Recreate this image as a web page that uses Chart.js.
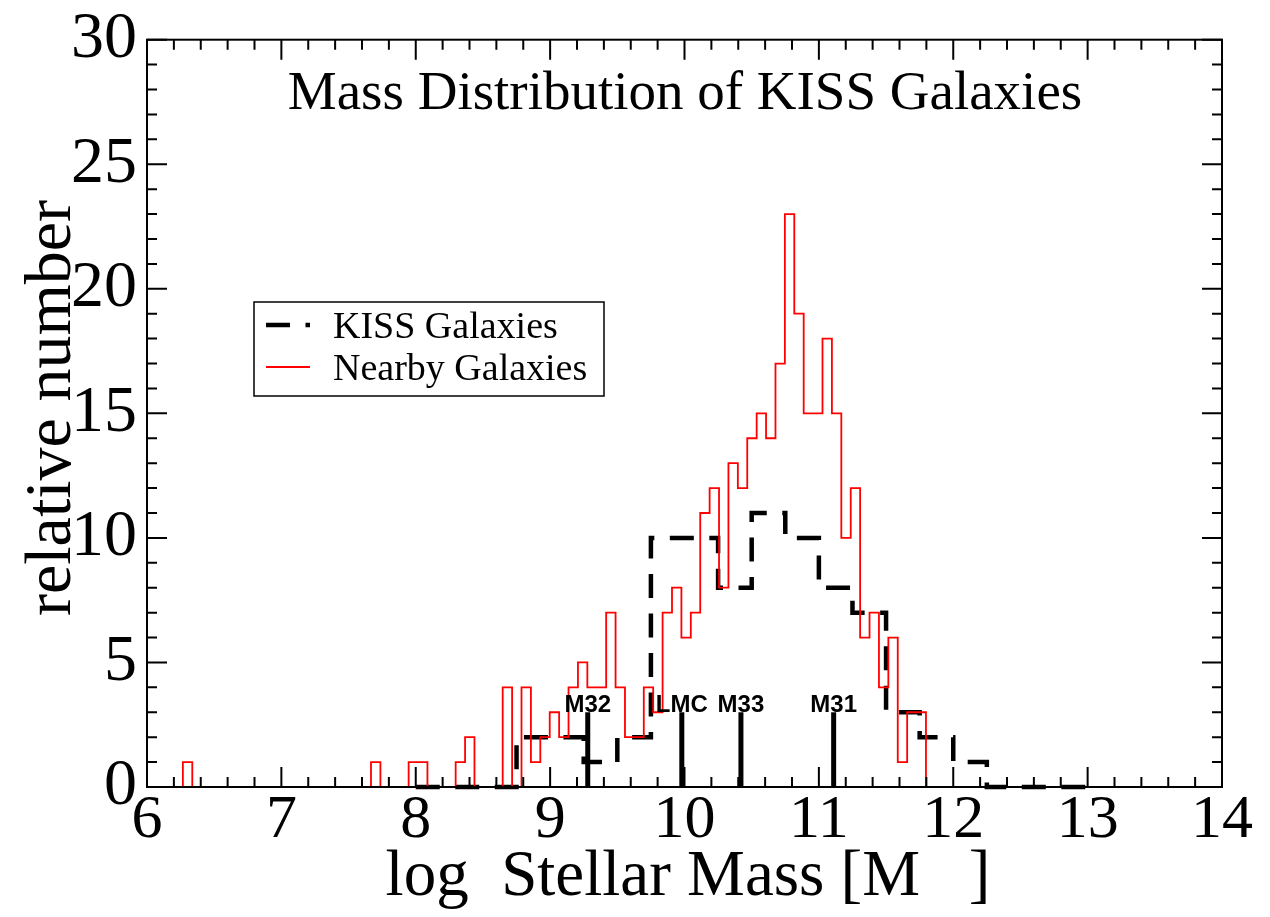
<!DOCTYPE html>
<html>
<head>
<meta charset="utf-8">
<script src="https://cdn.jsdelivr.net/npm/chart.js@4.4.0/dist/chart.umd.min.js"></script>
<style>
  html, body { margin: 0; padding: 0; background: #fff; }
</style>
</head>
<body>
<canvas id="chart" width="1270" height="917"></canvas>
<script>
// KISS galaxies: 0.25 dex bins starting at log M = 8.0
const kissStart = 8.0;
const kissBinWidth = 0.25;
const kissCounts = [0, 0, 0, 2, 2, 1, 2, 10, 10, 8, 11, 10, 8, 7, 3, 2, 1, 0, 0, 0];

// nearby galaxies: 0.07 dex bins starting at log M = 6.267
const nearbyStart = 6.267;
const nearbyBinWidth = 0.07;
const nearbyCounts = [
  1, 0, 0, 0, 0, 0, 0, 0, 0, 0, 0, 0, 0, 0, 0, 0, 0, 0, 0, 0,
  1, 0, 0, 0, 1, 1, 0, 0, 0, 1, 2, 0, 0, 0,
  4, 0, 4, 1, 2, 3, 2, 4, 5, 4, 4, 7, 4, 2, 2, 4, 3, 7, 8, 6,
  7, 11, 12, 8, 13, 12, 14, 15, 14, 17, 23, 19, 15, 15, 18, 15,
  10, 12, 6, 7, 4, 6, 1, 3, 3
];

// reference galaxies marked on the plot
const refNames = ["M32", "LMC", "M33", "M31"];
const refMass = [9.28, 9.98, 10.42, 11.11];
const refHeight = 3;

const chartTitle = "Mass Distribution of KISS Galaxies";
const xTitle = "log  Stellar Mass [M   ]";
const yTitle = "relative number";

const serif = "'Liberation Serif', 'Times New Roman', serif";

// histogram outline as step points (left edge, count) + closing point
function stepPoints(start, width, counts) {
  const pts = [{ x: start, y: 0 }];
  counts.forEach((c, i) => pts.push({ x: start + i * width, y: c }));
  pts.push({ x: start + counts.length * width, y: 0 });
  return pts;
}

const overlay = {
  id: "overlay",
  afterDatasetsDraw(chart) {
    const { ctx, chartArea: a, scales: { x, y } } = chart;
    ctx.save();

    // reference galaxy markers
    ctx.strokeStyle = "#000";
    ctx.fillStyle = "#000";
    ctx.lineWidth = 5;
    ctx.font = "bold 24px 'Liberation Sans', Arial, sans-serif";
    ctx.textAlign = "center";
    ctx.textBaseline = "alphabetic";
    refMass.forEach((m, i) => {
      const px = x.getPixelForValue(m);
      const top = y.getPixelForValue(refHeight);
      ctx.beginPath();
      ctx.moveTo(px, y.getPixelForValue(0));
      ctx.lineTo(px, top);
      ctx.stroke();
      ctx.fillText(refNames[i], px, top);
    });

    // frame with inward ticks on all sides
    ctx.lineWidth = 2;
    ctx.beginPath();
    for (let i = 0; i <= 40; i++) {
      const v = 6 + i * 0.2;
      const px = x.getPixelForValue(v);
      const len = i % 5 === 0 ? 20 : 10;
      ctx.moveTo(px, a.bottom); ctx.lineTo(px, a.bottom - len);
      ctx.moveTo(px, a.top); ctx.lineTo(px, a.top + len);
    }
    for (let v = 0; v <= 30; v++) {
      const py = y.getPixelForValue(v);
      const len = v % 5 === 0 ? 20 : 10;
      ctx.moveTo(a.left, py); ctx.lineTo(a.left + len, py);
      ctx.moveTo(a.right, py); ctx.lineTo(a.right - len, py);
    }
    ctx.stroke();
    ctx.strokeRect(a.left, a.top, a.right - a.left, a.bottom - a.top);

    // legend box
    const lx = 254, ly = 302, lw = 350, lh = 94;
    ctx.lineWidth = 1.5;
    ctx.strokeRect(lx, ly, lw, lh);
    ctx.font = "38px " + serif;
    ctx.textAlign = "left";
    chart.data.datasets.forEach((ds, i) => {
      const cy = ly + 23 + i * 42;
      ctx.save();
      ctx.strokeStyle = ds.borderColor;
      ctx.lineWidth = ds.borderWidth;
      ctx.setLineDash(ds.borderDash || []);
      ctx.beginPath();
      ctx.moveTo(lx + 12, cy);
      ctx.lineTo(lx + 56, cy);
      ctx.stroke();
      ctx.restore();
      ctx.fillText(ds.label, lx + 79, cy + 13);
    });

    // title inside the plot
    ctx.textAlign = "center";
    ctx.font = "55px " + serif;
    ctx.fillText(chartTitle, 685, 109);

    // axis titles
    ctx.font = "65px " + serif;
    ctx.fillText(xTitle, 688, 895);
    ctx.translate(70, 408);
    ctx.rotate(-Math.PI / 2);
    ctx.font = "66px " + serif;
    ctx.fillText(yTitle, 0, 0);

    ctx.restore();
  }
};

new Chart(document.getElementById("chart"), {
  type: "line",
  data: {
    datasets: [
      {
        label: "KISS Galaxies",
        data: stepPoints(kissStart, kissBinWidth, kissCounts),
        borderColor: "#000",
        borderWidth: 4.5,
        borderDash: [24, 15.5],
        stepped: true,
        pointRadius: 0,
        fill: false,
        clip: false,
        order: 1
      },
      {
        label: "Nearby Galaxies",
        data: stepPoints(nearbyStart, nearbyBinWidth, nearbyCounts),
        borderColor: "#ff0000",
        borderWidth: 1.8,
        stepped: true,
        pointRadius: 0,
        fill: false,
        clip: false,
        order: 0
      }
    ]
  },
  options: {
    responsive: false,
    animation: false,
    devicePixelRatio: 1,
    layout: { padding: { top: 32, right: 48, left: 0, bottom: 0 } },
    plugins: {
      legend: { display: false },
      tooltip: { enabled: false }
    },
    scales: {
      x: {
        type: "linear",
        min: 6,
        max: 14,
        ticks: {
          stepSize: 1,
          color: "#000",
          padding: 3,
          maxRotation: 0,
          font: { family: serif, size: 62, lineHeight: 1 }
        },
        grid: { display: false, drawTicks: false },
        border: { display: false },
        afterFit(scale) { scale.height = 130; }
      },
      y: {
        min: 0,
        max: 30,
        ticks: {
          stepSize: 5,
          color: "#000",
          padding: 10,
          font: { family: serif, size: 66, lineHeight: 0.9 }
        },
        grid: { display: false, drawTicks: false },
        border: { display: false },
        afterFit(scale) { scale.width = 147; }
      }
    }
  },
  plugins: [overlay]
});
</script>
</body>
</html>
